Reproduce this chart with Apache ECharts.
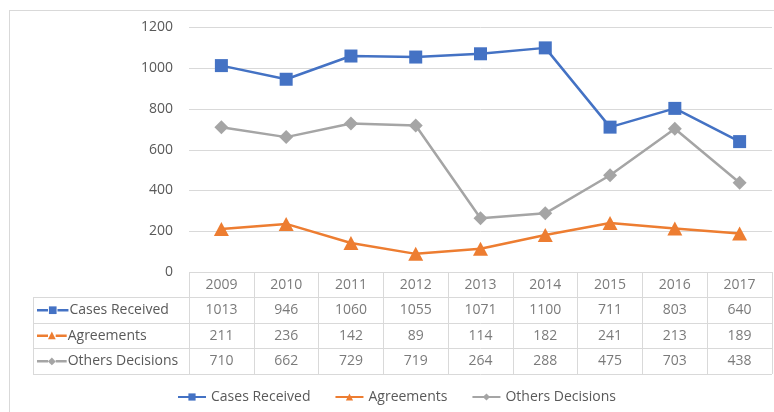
<!DOCTYPE html>
<html>
<head>
<meta charset="utf-8">
<script src="https://cdn.jsdelivr.net/npm/echarts@6/dist/echarts.min.js"></script>
<style>
  html, body { margin: 0; padding: 0; background: #fff; }
  #frame { position: absolute; left: 9px; top: 10px; width: 800px; height: 420px; border-left: 1px solid #d9d9d9; border-top: 1px solid #d9d9d9; box-sizing: border-box; }
  #chart { position: absolute; left: 0; top: 0; width: 774px; height: 412px; }
</style>
</head>
<body>
<div id="frame"></div>
<div id="chart"></div>
<script>
// ---- data ----
const years = ['2009', '2010', '2011', '2012', '2013', '2014', '2015', '2016', '2017'];
const seriesNames = ['Cases Received', 'Agreements', 'Others Decisions'];
const casesReceived = [1013, 946, 1060, 1055, 1071, 1100, 711, 803, 640];
const agreements = [211, 236, 142, 89, 114, 182, 241, 213, 189];
const othersDecisions = [710, 662, 729, 719, 264, 288, 475, 703, 438];
const yMin = 0, yMax = 1200, yStep = 200;

// ---- styles ----
const FONT = 'Open Sans';
const TXT = '#595959';
const GRID_LINE = '#d9d9d9';
const colors = ['#4472C4', '#ED7D31', '#A5A5A5'];
const symbols = ['rect', 'triangle', 'diamond'];
const symbolSizes = [13, [15, 14], [14, 14]];
const seriesValues = [casesReceived, agreements, othersDecisions];

const chart = echarts.init(document.getElementById('chart'), null, { renderer: 'canvas' });

// table cell labels built from the data arrays
const tableRows = ['header'].concat(seriesNames);
const tableData = [];
years.forEach((y) => tableData.push([y, 'header', y]));
seriesNames.forEach((name, si) => {
  years.forEach((y, i) => tableData.push([y, name, String(seriesValues[si][i])]));
});

const richKeys = ['b', 'o', 'g'];
const rich = { t: { fontFamily: FONT, fontSize: 14, color: TXT, padding: [0, 0, 0, 1] } };
richKeys.forEach((k, i) => {
  rich['l' + k] = { width: 11, height: 2.5, backgroundColor: colors[i] };
  rich['s' + k] = { color: colors[i], fontSize: 10, fontFamily: 'DejaVu Sans', lineHeight: 14 };
});
const rowSym = ['\u25A0', '\u25B2', '\u25C6'];

const lineSeries = seriesNames.map((name, i) => ({
  name: name,
  type: 'line',
  xAxisIndex: 0,
  yAxisIndex: 0,
  data: seriesValues[i],
  symbol: symbols[i],
  symbolSize: symbolSizes[i],
  showAllSymbol: true,
  lineStyle: { color: colors[i], width: 2.5 },
  itemStyle: { color: colors[i] },
  emphasis: { disabled: true },
  z: 3 + (i === 0 ? 2 : i === 2 ? 1 : 0)
}));

const option = {
  backgroundColor: 'transparent',
  animation: false,
  textStyle: { fontFamily: FONT },
  grid: [
    { left: 189, right: 2, top: 27.5, height: 244.5 },
    { left: 189, right: 2, top: 272, height: 102 },
    { left: 33, width: 156, top: 297.5, height: 76.5 }
  ],
  legend: {
    data: seriesNames,
    left: 172,
    top: 385,
    itemWidth: 28,
    itemHeight: 9,
    itemGap: 24,
    textStyle: { fontFamily: FONT, fontSize: 14, color: TXT },
    selectedMode: false
  },
  xAxis: [
    {
      type: 'category', gridIndex: 0, data: years, boundaryGap: true,
      axisLine: { show: false }, axisTick: { show: false }, axisLabel: { show: false }, splitLine: { show: false }
    },
    {
      type: 'category', gridIndex: 1, data: years, boundaryGap: true,
      axisLine: { show: false }, axisTick: { show: false }, axisLabel: { show: false },
      splitLine: { show: true, lineStyle: { color: GRID_LINE, width: 1 } }
    },
    {
      type: 'value', gridIndex: 2, min: 0, max: 1, interval: 1,
      axisLine: { show: false }, axisTick: { show: false }, axisLabel: { show: false },
      splitLine: { show: true, showMinLine: true, showMaxLine: true, lineStyle: { color: GRID_LINE, width: 1 } }
    }
  ],
  yAxis: [
    {
      type: 'value', gridIndex: 0, min: yMin, max: yMax, interval: yStep,
      axisLine: { show: false }, axisTick: { show: false },
      axisLabel: { color: TXT, fontFamily: FONT, fontSize: 14, margin: 16, formatter: (v) => String(v) },
      splitLine: { show: true, lineStyle: { color: GRID_LINE, width: 1 } }
    },
    {
      type: 'category', gridIndex: 1, data: tableRows, inverse: true,
      axisLine: { show: false }, axisTick: { show: false }, axisLabel: { show: false },
      splitLine: { show: true, lineStyle: { color: GRID_LINE, width: 1 } }
    },
    {
      type: 'category', gridIndex: 2, data: seriesNames, inverse: true,
      axisLine: { show: false }, axisTick: { show: false },
      axisLabel: {
        inside: true, margin: 4,
        formatter: function (v) {
          const i = seriesNames.indexOf(v);
          const k = richKeys[i];
          return '{l' + k + '|}{s' + k + '|' + rowSym[i] + '}{l' + k + '|}{t|' + v + '}';
        },
        rich: rich
      },
      splitLine: { show: true, lineStyle: { color: GRID_LINE, width: 1 } }
    }
  ],
  series: lineSeries.concat([
    {
      type: 'scatter',
      xAxisIndex: 1,
      yAxisIndex: 1,
      data: tableData,
      symbolSize: 1,
      itemStyle: { color: 'rgba(0,0,0,0)' },
      silent: true,
      label: {
        show: true, position: 'inside',
        formatter: (p) => p.value[2],
        color: TXT, fontFamily: FONT, fontSize: 14
      },
      emphasis: { disabled: true }
    }
  ])
};

chart.setOption(option);
</script>
</body>
</html>
